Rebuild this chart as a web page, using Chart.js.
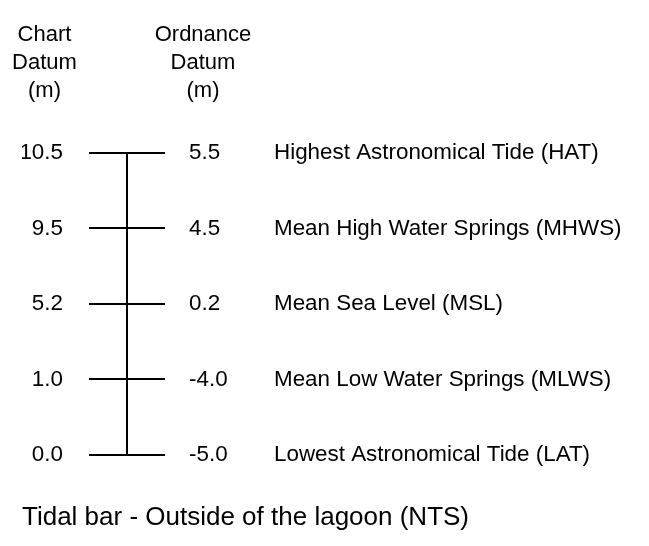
<!DOCTYPE html>
<html>
<head>
<meta charset="utf-8">
<script src="https://cdn.jsdelivr.net/npm/chart.js@4/dist/chart.umd.min.js"></script>
<style>
  html, body { margin: 0; padding: 0; background: #fff; }
  #wrap { width: 649px; height: 546px; position: relative; }
</style>
</head>
<body>
<div id="wrap"><canvas id="tidalBar"></canvas></div>
<script>
// levels listed top to bottom (not to scale)
const LEVEL_NAMES = [
  'Highest Astronomical Tide (HAT)',
  'Mean High Water Springs (MHWS)',
  'Mean Sea Level (MSL)',
  'Mean Low Water Springs (MLWS)',
  'Lowest Astronomical Tide (LAT)'
]
const CHART_DATUM = ['10.5', '9.5', '5.2', '1.0', '0.0']
const ORDNANCE_DATUM = ['5.5', '4.5', '0.2', '-4.0', '-5.0']
const HEADER_CD = ['Chart', 'Datum', '(m)']
const HEADER_OD = ['Ordnance', 'Datum', '(m)']
const CAPTION = 'Tidal bar - Outside of the lagoon (NTS)'

const FONT = "'Liberation Sans', Arial, Helvetica, sans-serif"
const N = LEVEL_NAMES.length

// level index -> position on the (evenly spaced) y scale, top = N-1
const labelAt = (arr) => (value) => arr[N - 1 - value]

const headerPlugin = {
  id: 'datumHeaders',
  afterDraw(chart) {
    const ctx = chart.ctx
    const top = chart.chartArea.top
    const cols = [
      { x: chart.chartArea.left / 2, lines: HEADER_CD },
      { x: (chart.scales.y2.left + chart.scales.y2.right) / 2, lines: HEADER_OD }
    ]
    ctx.save()
    ctx.font = '22px ' + FONT
    ctx.fillStyle = '#000'
    ctx.textAlign = 'center'
    ctx.textBaseline = 'middle'
    cols.forEach(col => {
      col.lines.forEach((line, i) => {
        ctx.fillText(line, col.x, top - 118 + i * 28)
      })
    })
    ctx.restore()
  }
}

const tickFont = { family: FONT, size: 22.4 }

var tidalConfig = {
  type: 'line',
  data: {
    datasets: [{
      label: 'bar',
      // vertical staff from lowest to highest level
      data: [{ x: 1, y: 0 }, { x: 1, y: N - 1 }],
      borderColor: '#000',
      borderWidth: 2,
      pointRadius: 0,
      yAxisID: 'y'
    }]
  },
  plugins: [headerPlugin],
  options: {
    responsive: true,
    maintainAspectRatio: false,
    animation: false,
    layout: { padding: { top: 153, left: 22, right: 0, bottom: 0 } },
    scales: {
      x: { type: 'linear', min: 0, max: 2, display: false },
      y: {
        type: 'linear', position: 'left', min: 0, max: N - 1,
        afterFit: (scale) => { scale.width = 67 },
        border: { display: false },
        grid: { color: '#000', lineWidth: 2, drawTicks: false },
        ticks: { stepSize: 1, padding: 26, color: '#000', font: tickFont, callback: labelAt(CHART_DATUM) }
      },
      y2: {
        type: 'linear', position: 'right', min: 0, max: N - 1, weight: 0,
        afterFit: (scale) => { scale.width = 76 },
        border: { display: false },
        grid: { display: false, drawTicks: false },
        ticks: { stepSize: 1, padding: 24, color: '#000', font: tickFont, callback: labelAt(ORDNANCE_DATUM) }
      },
      y3: {
        type: 'linear', position: 'right', min: 0, max: N - 1, weight: 1,
        afterFit: (scale) => { scale.width = 408 },
        border: { display: false },
        grid: { display: false, drawTicks: false },
        ticks: { stepSize: 1, padding: 33, color: '#000', font: tickFont, callback: labelAt(LEVEL_NAMES) }
      }
    },
    plugins: {
      legend: { display: false },
      tooltip: { enabled: false },
      title: {
        display: true,
        position: 'bottom',
        align: 'start',
        text: CAPTION,
        color: '#000',
        font: { family: FONT, size: 26, weight: 'normal' },
        padding: { top: 47, bottom: 13 }
      }
    }
  }
}

const tidalChart = new Chart(document.getElementById('tidalBar'), tidalConfig)
</script>
</body>
</html>
